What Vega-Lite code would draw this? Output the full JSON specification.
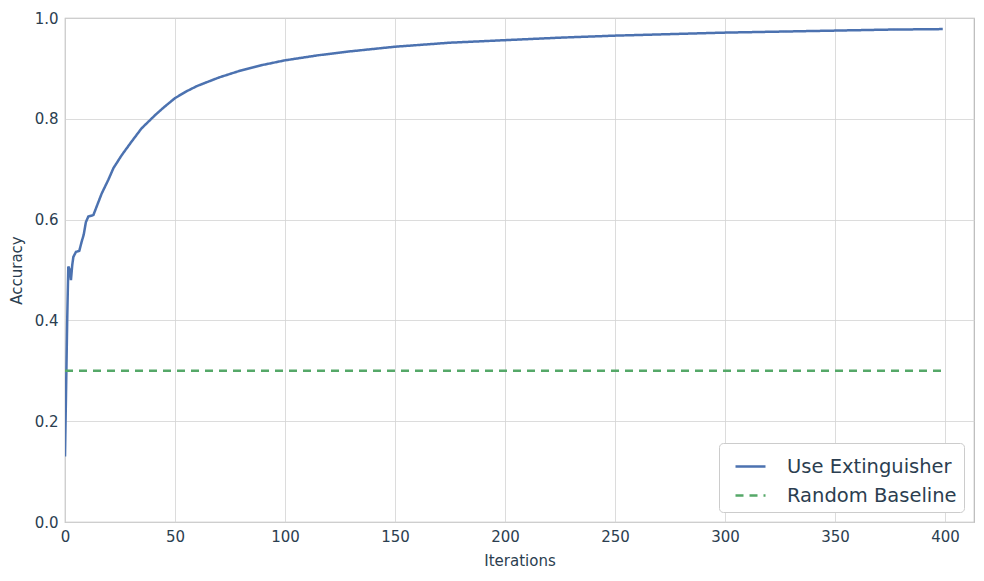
{
  "$schema": "https://vega.github.io/schema/vega-lite/v6.json",
  "width": 909,
  "height": 504,
  "autosize": {"type": "none"},
  "padding": {"left": 65, "top": 18, "right": 10, "bottom": 59},
  "background": "white",
  "config": {
    "font": "DejaVu Sans",
    "view": {"stroke": "#b8b8b8", "strokeWidth": 1.2},
    "axis": {
      "domain": false, "ticks": false, "grid": true, "gridColor": "#d3d3d3", "gridWidth": 0.8,
      "labelFontSize": 15, "titleFontSize": 15, "labelColor": "#2b3e50", "titleColor": "#2b3e50",
      "titleFontWeight": "normal", "labelPadding": 7, "labelFlush": false
    }
  },
  "data": {"values": [
    {"series": "Use Extinguisher", "iter": 0, "acc": 0.13},
    {"series": "Use Extinguisher", "iter": 1, "acc": 0.40},
    {"series": "Use Extinguisher", "iter": 1.5, "acc": 0.507},
    {"series": "Use Extinguisher", "iter": 2.2, "acc": 0.50},
    {"series": "Use Extinguisher", "iter": 2.7, "acc": 0.48},
    {"series": "Use Extinguisher", "iter": 3.3, "acc": 0.51},
    {"series": "Use Extinguisher", "iter": 3.8, "acc": 0.526},
    {"series": "Use Extinguisher", "iter": 5, "acc": 0.536},
    {"series": "Use Extinguisher", "iter": 6.5, "acc": 0.538},
    {"series": "Use Extinguisher", "iter": 7.5, "acc": 0.555},
    {"series": "Use Extinguisher", "iter": 8.5, "acc": 0.57},
    {"series": "Use Extinguisher", "iter": 9.5, "acc": 0.595},
    {"series": "Use Extinguisher", "iter": 10.6, "acc": 0.606},
    {"series": "Use Extinguisher", "iter": 12.9, "acc": 0.609},
    {"series": "Use Extinguisher", "iter": 14.4, "acc": 0.626},
    {"series": "Use Extinguisher", "iter": 16.7, "acc": 0.652},
    {"series": "Use Extinguisher", "iter": 19.7, "acc": 0.679},
    {"series": "Use Extinguisher", "iter": 22, "acc": 0.702},
    {"series": "Use Extinguisher", "iter": 25.8, "acc": 0.728},
    {"series": "Use Extinguisher", "iter": 30.3, "acc": 0.755},
    {"series": "Use Extinguisher", "iter": 34.8, "acc": 0.781},
    {"series": "Use Extinguisher", "iter": 40.9, "acc": 0.807},
    {"series": "Use Extinguisher", "iter": 45, "acc": 0.823},
    {"series": "Use Extinguisher", "iter": 50, "acc": 0.841},
    {"series": "Use Extinguisher", "iter": 55, "acc": 0.854},
    {"series": "Use Extinguisher", "iter": 60, "acc": 0.865},
    {"series": "Use Extinguisher", "iter": 70, "acc": 0.882},
    {"series": "Use Extinguisher", "iter": 80, "acc": 0.896},
    {"series": "Use Extinguisher", "iter": 90, "acc": 0.907},
    {"series": "Use Extinguisher", "iter": 100, "acc": 0.916},
    {"series": "Use Extinguisher", "iter": 115, "acc": 0.926},
    {"series": "Use Extinguisher", "iter": 130, "acc": 0.934},
    {"series": "Use Extinguisher", "iter": 150, "acc": 0.943},
    {"series": "Use Extinguisher", "iter": 175, "acc": 0.951},
    {"series": "Use Extinguisher", "iter": 200, "acc": 0.956},
    {"series": "Use Extinguisher", "iter": 225, "acc": 0.961},
    {"series": "Use Extinguisher", "iter": 250, "acc": 0.965},
    {"series": "Use Extinguisher", "iter": 275, "acc": 0.968},
    {"series": "Use Extinguisher", "iter": 300, "acc": 0.971},
    {"series": "Use Extinguisher", "iter": 325, "acc": 0.973},
    {"series": "Use Extinguisher", "iter": 350, "acc": 0.975},
    {"series": "Use Extinguisher", "iter": 375, "acc": 0.977},
    {"series": "Use Extinguisher", "iter": 399, "acc": 0.978},
    {"series": "Random Baseline", "iter": 0, "acc": 0.3},
    {"series": "Random Baseline", "iter": 399, "acc": 0.3}
  ]},
  "mark": {"type": "line", "strokeWidth": 2.5, "clip": true},
  "encoding": {
    "x": {"field": "iter", "type": "quantitative", "title": "Iterations",
      "scale": {"domain": [0, 413.2], "nice": false, "zero": false},
      "axis": {"values": [0, 50, 100, 150, 200, 250, 300, 350, 400], "titlePadding": 9}},
    "y": {"field": "acc", "type": "quantitative", "title": "Accuracy",
      "scale": {"domain": [0, 1], "nice": false},
      "axis": {"values": [0, 0.2, 0.4, 0.6, 0.8, 1.0], "format": ".1f", "titlePadding": 10}},
    "color": {"field": "series", "type": "nominal",
      "scale": {"domain": ["Use Extinguisher", "Random Baseline"], "range": ["#4c72b0", "#55a868"]},
      "legend": {"title": null, "orient": "bottom-right", "offset": 10, "symbolType": "stroke",
        "symbolSize": 900, "symbolStrokeWidth": 2.5, "labelFontSize": 19.5, "labelColor": "#2b3e50",
        "labelLimit": 400, "labelOffset": 20, "fillColor": "white", "strokeColor": "#cccccc", "cornerRadius": 4,
        "padding": 7, "rowPadding": 3, "symbolOffset": 8}},
    "strokeDash": {"field": "series", "type": "nominal",
      "scale": {"domain": ["Use Extinguisher", "Random Baseline"], "range": [[1, 0], [8, 6]]},
      "legend": null},
    "order": {"field": "iter", "type": "quantitative"}
  }
}
